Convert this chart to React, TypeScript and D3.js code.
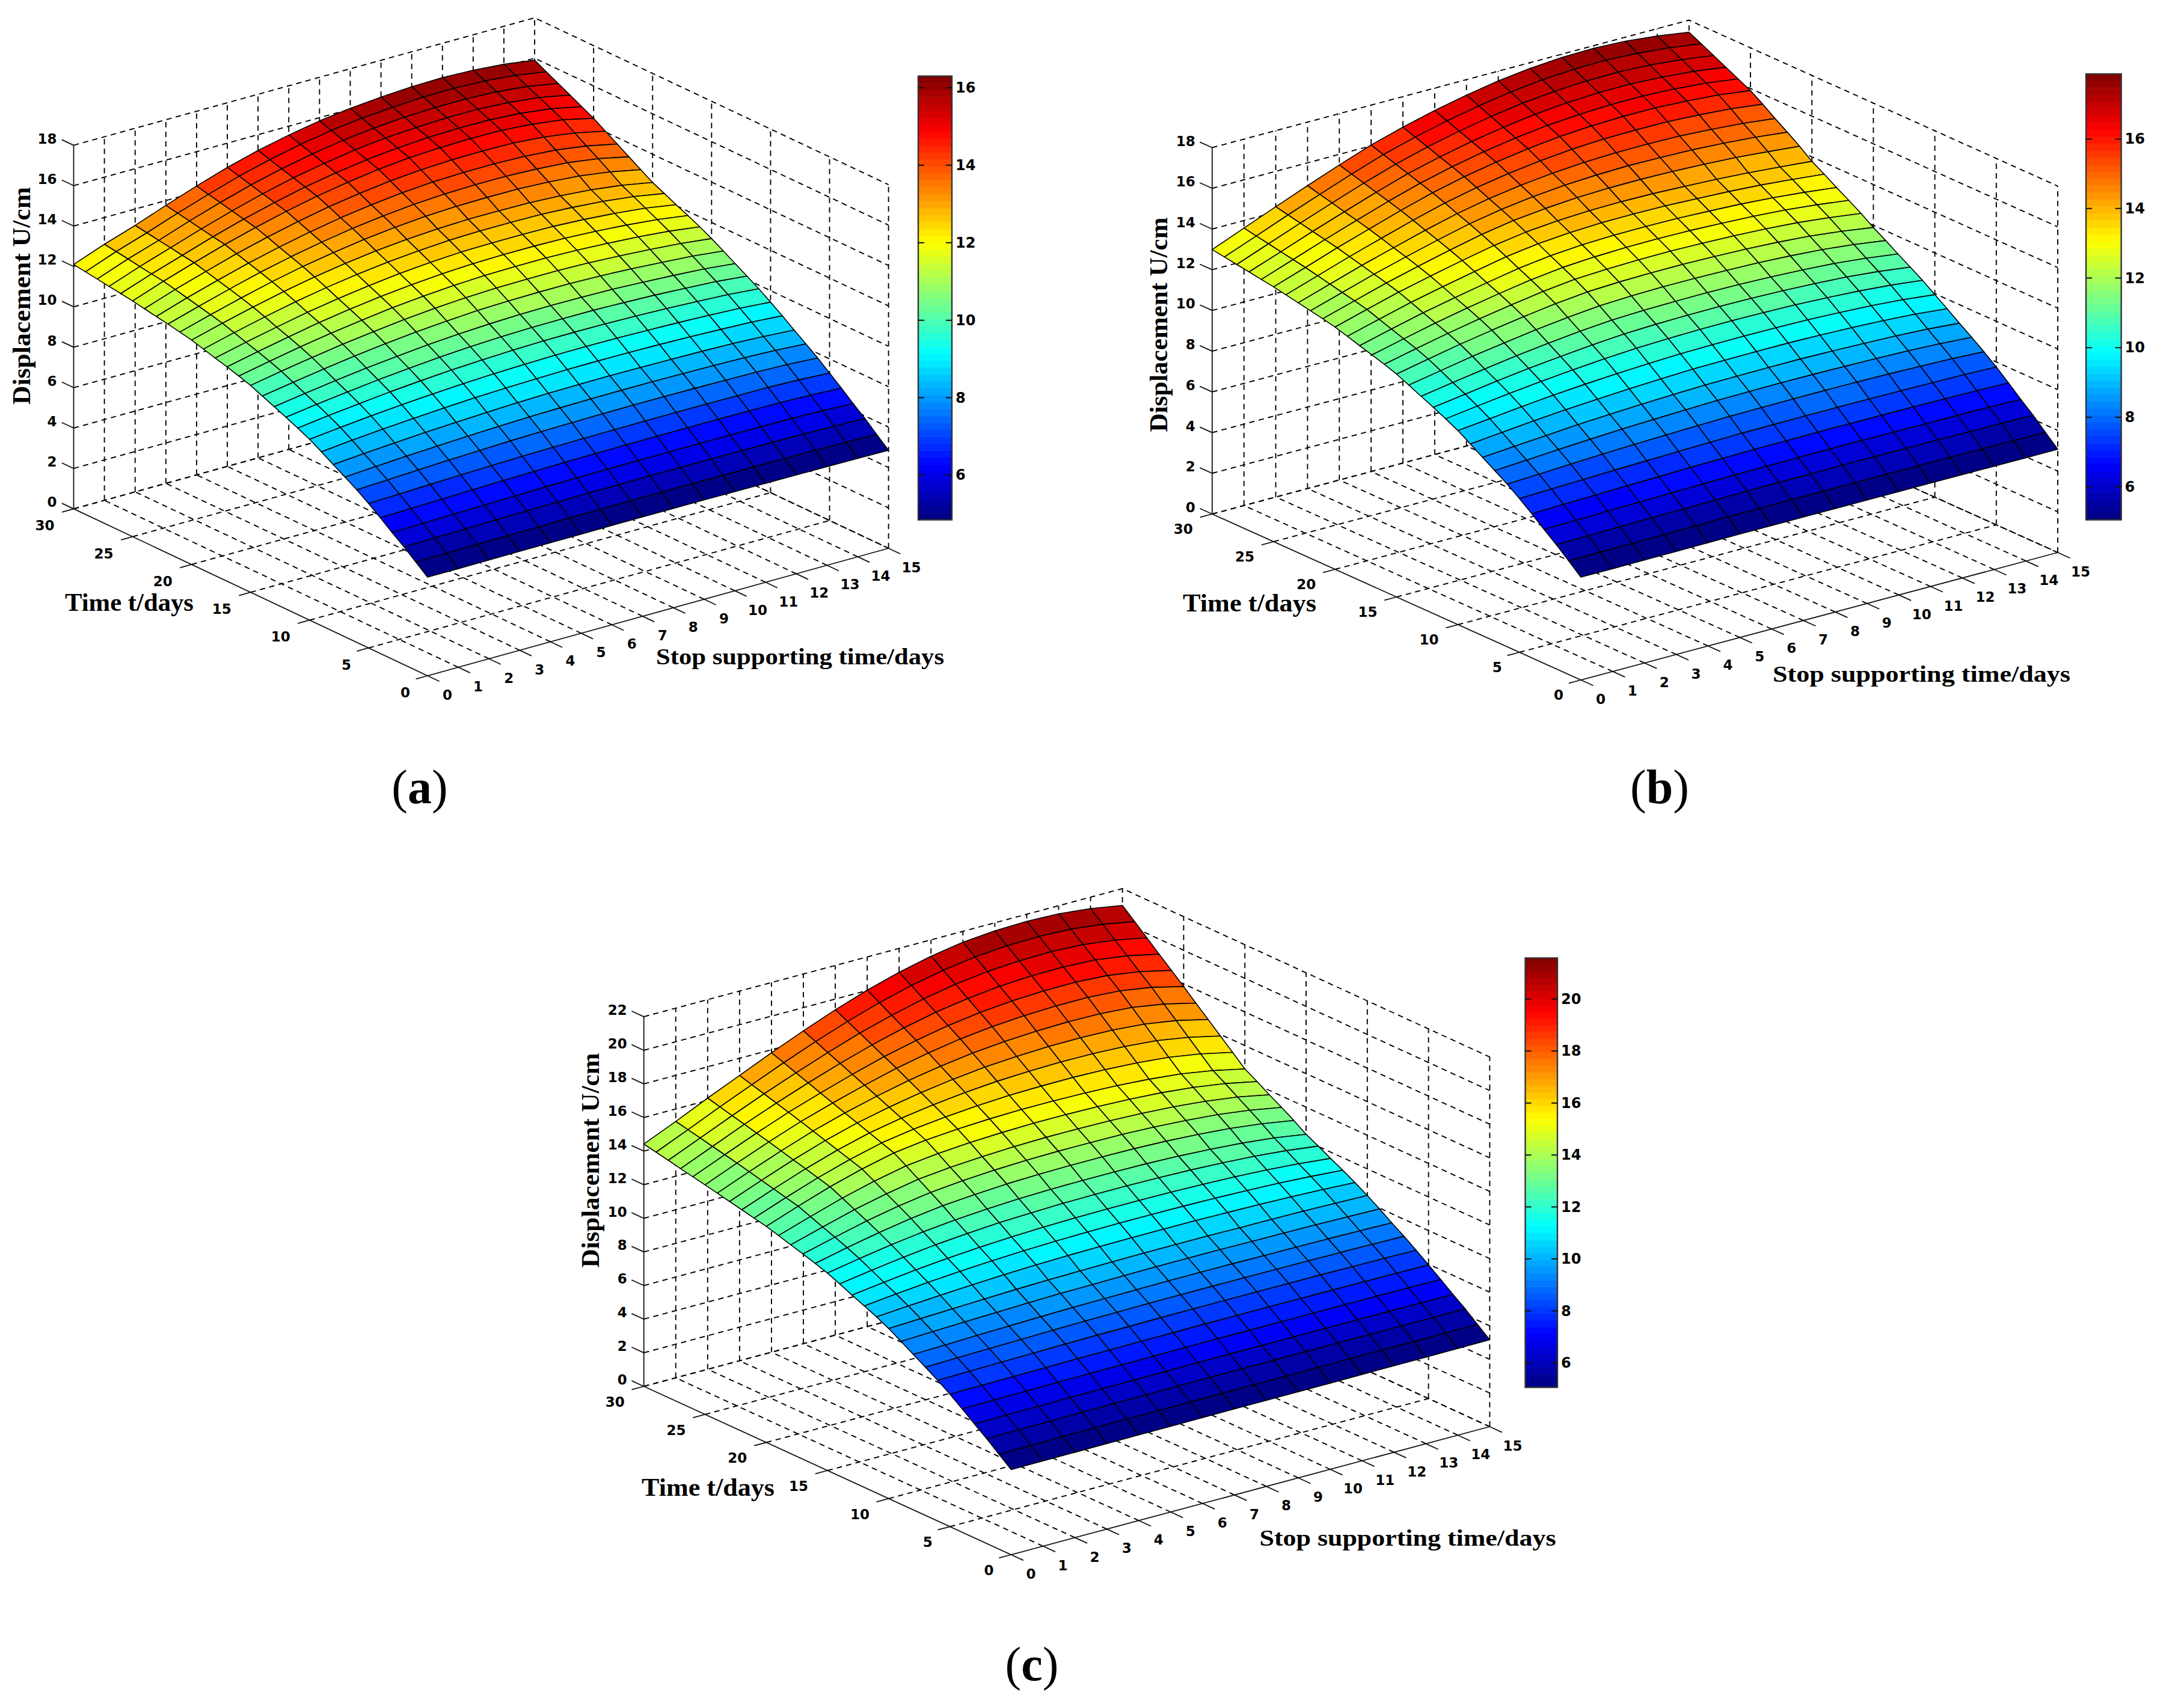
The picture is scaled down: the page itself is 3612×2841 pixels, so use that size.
import React from "react";
import * as d3 from "d3";

// tick values
const timeTicks = [0, 5, 10, 15, 20, 25, 30];
const stopTicks = d3.range(0, 16);
const stopValues = d3.range(0, 16);
const timeValues = d3.range(0, 31);
const dispTicksShort = [0, 2, 4, 6, 8, 10, 12, 14, 16, 18];
const dispTicksTall = [0, 2, 4, 6, 8, 10, 12, 14, 16, 18, 20, 22];
const barTicksShort = [6, 8, 10, 12, 14, 16];
const barTicksTall = [6, 8, 10, 12, 14, 16, 18, 20];

// displacement, one row per t (0..30), one column per stop time (0..15)
const dispA = [
  [4.88, 4.88, 4.89, 4.90, 4.90, 4.91, 4.92, 4.92, 4.92, 4.92, 4.91, 4.90, 4.89, 4.88, 4.87, 4.85],
  [5.36, 5.37, 5.39, 5.40, 5.41, 5.43, 5.44, 5.45, 5.45, 5.45, 5.44, 5.44, 5.43, 5.42, 5.40, 5.36],
  [5.83, 5.85, 5.88, 5.91, 5.92, 5.95, 5.97, 5.97, 5.98, 5.98, 5.98, 5.97, 5.96, 5.95, 5.92, 5.88],
  [6.26, 6.30, 6.33, 6.36, 6.39, 6.42, 6.44, 6.45, 6.46, 6.46, 6.46, 6.46, 6.45, 6.44, 6.40, 6.34],
  [6.72, 6.76, 6.80, 6.84, 6.88, 6.91, 6.94, 6.95, 6.96, 6.97, 6.97, 6.97, 6.96, 6.95, 6.90, 6.83],
  [7.15, 7.20, 7.25, 7.30, 7.34, 7.38, 7.41, 7.43, 7.44, 7.45, 7.45, 7.45, 7.44, 7.43, 7.38, 7.30],
  [7.55, 7.62, 7.69, 7.76, 7.82, 7.87, 7.91, 7.93, 7.95, 7.96, 7.96, 7.95, 7.93, 7.91, 7.86, 7.77],
  [7.91, 8.01, 8.10, 8.18, 8.25, 8.31, 8.36, 8.39, 8.41, 8.42, 8.42, 8.40, 8.38, 8.35, 8.29, 8.19],
  [8.25, 8.37, 8.48, 8.58, 8.66, 8.73, 8.79, 8.83, 8.85, 8.86, 8.85, 8.83, 8.81, 8.77, 8.70, 8.60],
  [8.61, 8.76, 8.89, 9.00, 9.10, 9.18, 9.24, 9.28, 9.31, 9.32, 9.31, 9.29, 9.25, 9.20, 9.14, 9.03],
  [8.95, 9.12, 9.27, 9.40, 9.51, 9.60, 9.67, 9.72, 9.75, 9.76, 9.75, 9.72, 9.68, 9.62, 9.55, 9.43],
  [9.23, 9.43, 9.60, 9.76, 9.89, 10.00, 10.08, 10.14, 10.18, 10.19, 10.18, 10.15, 10.10, 10.03, 9.95, 9.82],
  [9.49, 9.71, 9.90, 10.08, 10.23, 10.36, 10.46, 10.53, 10.57, 10.58, 10.58, 10.54, 10.49, 10.41, 10.32, 10.17],
  [9.74, 9.97, 10.19, 10.39, 10.55, 10.70, 10.81, 10.89, 10.94, 10.96, 10.95, 10.92, 10.85, 10.77, 10.67, 10.51],
  [9.99, 10.25, 10.49, 10.71, 10.90, 11.06, 11.18, 11.28, 11.33, 11.35, 11.35, 11.31, 11.24, 11.14, 11.03, 10.86],
  [10.24, 10.52, 10.78, 11.02, 11.22, 11.40, 11.54, 11.64, 11.70, 11.72, 11.72, 11.68, 11.60, 11.50, 11.38, 11.20],
  [10.43, 10.74, 11.03, 11.29, 11.51, 11.71, 11.86, 11.97, 12.04, 12.07, 12.07, 12.03, 11.95, 11.85, 11.71, 11.51],
  [10.61, 10.94, 11.25, 11.54, 11.78, 11.99, 12.15, 12.27, 12.35, 12.38, 12.38, 12.35, 12.27, 12.16, 12.01, 11.79],
  [10.77, 11.13, 11.46, 11.77, 12.03, 12.25, 12.43, 12.56, 12.65, 12.68, 12.68, 12.66, 12.58, 12.46, 12.30, 12.05],
  [10.94, 11.33, 11.69, 12.02, 12.30, 12.53, 12.72, 12.86, 12.96, 13.00, 13.00, 12.98, 12.90, 12.78, 12.60, 12.33],
  [11.11, 11.52, 11.90, 12.25, 12.55, 12.80, 13.00, 13.15, 13.25, 13.30, 13.30, 13.28, 13.20, 13.08, 12.88, 12.60],
  [11.23, 11.67, 12.08, 12.46, 12.79, 13.06, 13.29, 13.47, 13.60, 13.67, 13.69, 13.68, 13.61, 13.49, 13.27, 12.96],
  [11.35, 11.81, 12.24, 12.65, 13.00, 13.30, 13.56, 13.76, 13.91, 14.00, 14.04, 14.04, 13.98, 13.87, 13.65, 13.32],
  [11.45, 11.95, 12.40, 12.83, 13.20, 13.53, 13.81, 14.03, 14.21, 14.32, 14.37, 14.38, 14.33, 14.22, 14.00, 13.68],
  [11.56, 12.09, 12.56, 13.02, 13.42, 13.77, 14.08, 14.32, 14.52, 14.65, 14.72, 14.74, 14.71, 14.59, 14.37, 14.04],
  [11.67, 12.22, 12.72, 13.20, 13.62, 14.00, 14.33, 14.60, 14.82, 14.97, 15.05, 15.08, 15.06, 14.95, 14.75, 14.40],
  [11.76, 12.31, 12.81, 13.31, 13.76, 14.16, 14.51, 14.79, 15.02, 15.18, 15.28, 15.32, 15.31, 15.21, 15.02, 14.70],
  [11.84, 12.40, 12.91, 13.42, 13.89, 14.32, 14.69, 14.98, 15.23, 15.40, 15.50, 15.56, 15.56, 15.47, 15.30, 15.00],
  [11.93, 12.50, 13.00, 13.54, 14.03, 14.48, 14.86, 15.18, 15.43, 15.61, 15.73, 15.79, 15.80, 15.73, 15.57, 15.30],
  [12.01, 12.59, 13.10, 13.65, 14.16, 14.64, 15.04, 15.37, 15.64, 15.83, 15.95, 16.03, 16.05, 15.99, 15.85, 15.60],
  [12.10, 12.68, 13.19, 13.76, 14.30, 14.80, 15.22, 15.56, 15.84, 16.04, 16.18, 16.27, 16.30, 16.25, 16.12, 15.90],
];

const dispB = [
  [5.05, 5.05, 5.06, 5.06, 5.07, 5.08, 5.08, 5.08, 5.08, 5.08, 5.08, 5.08, 5.08, 5.07, 5.07, 5.07],
  [5.58, 5.59, 5.60, 5.61, 5.63, 5.65, 5.65, 5.66, 5.66, 5.66, 5.66, 5.66, 5.66, 5.65, 5.64, 5.63],
  [6.10, 6.12, 6.15, 6.17, 6.19, 6.21, 6.23, 6.24, 6.24, 6.25, 6.25, 6.24, 6.24, 6.23, 6.22, 6.20],
  [6.58, 6.61, 6.64, 6.67, 6.70, 6.73, 6.75, 6.76, 6.77, 6.78, 6.78, 6.77, 6.76, 6.75, 6.74, 6.70],
  [7.08, 7.12, 7.16, 7.20, 7.23, 7.27, 7.29, 7.32, 7.32, 7.33, 7.33, 7.32, 7.32, 7.30, 7.28, 7.24],
  [7.55, 7.60, 7.65, 7.70, 7.74, 7.78, 7.81, 7.84, 7.85, 7.86, 7.86, 7.85, 7.84, 7.82, 7.80, 7.75],
  [7.99, 8.06, 8.14, 8.21, 8.27, 8.32, 8.36, 8.40, 8.41, 8.42, 8.42, 8.41, 8.39, 8.35, 8.31, 8.23],
  [8.38, 8.48, 8.58, 8.67, 8.75, 8.81, 8.86, 8.91, 8.93, 8.94, 8.93, 8.91, 8.88, 8.84, 8.77, 8.67],
  [8.76, 8.88, 9.00, 9.12, 9.20, 9.28, 9.34, 9.39, 9.41, 9.42, 9.42, 9.39, 9.35, 9.30, 9.22, 9.09],
  [9.15, 9.30, 9.45, 9.58, 9.68, 9.77, 9.84, 9.90, 9.92, 9.93, 9.93, 9.90, 9.85, 9.78, 9.68, 9.53],
  [9.53, 9.70, 9.87, 10.02, 10.14, 10.24, 10.32, 10.38, 10.41, 10.42, 10.41, 10.38, 10.32, 10.24, 10.12, 9.95],
  [9.84, 10.05, 10.25, 10.42, 10.57, 10.70, 10.80, 10.86, 10.89, 10.90, 10.88, 10.85, 10.78, 10.69, 10.56, 10.38],
  [10.13, 10.36, 10.59, 10.79, 10.96, 11.11, 11.23, 11.29, 11.32, 11.33, 11.31, 11.27, 11.20, 11.11, 10.96, 10.76],
  [10.40, 10.66, 10.91, 11.14, 11.34, 11.51, 11.64, 11.70, 11.73, 11.74, 11.72, 11.67, 11.60, 11.50, 11.34, 11.13],
  [10.68, 10.97, 11.26, 11.50, 11.73, 11.92, 12.07, 12.14, 12.17, 12.17, 12.14, 12.10, 12.02, 11.91, 11.74, 11.52],
  [10.95, 11.27, 11.58, 11.85, 12.10, 12.32, 12.48, 12.55, 12.58, 12.58, 12.55, 12.50, 12.42, 12.30, 12.12, 11.89],
  [11.16, 11.51, 11.84, 12.14, 12.41, 12.65, 12.83, 12.91, 12.95, 12.96, 12.93, 12.88, 12.80, 12.69, 12.52, 12.31],
  [11.35, 11.72, 12.08, 12.40, 12.69, 12.95, 13.14, 13.24, 13.29, 13.30, 13.28, 13.22, 13.15, 13.04, 12.88, 12.68],
  [11.53, 11.93, 12.31, 12.64, 12.95, 13.24, 13.44, 13.56, 13.62, 13.63, 13.61, 13.55, 13.48, 13.37, 13.22, 13.04],
  [11.72, 12.14, 12.55, 12.90, 13.23, 13.54, 13.76, 13.89, 13.96, 13.97, 13.95, 13.89, 13.82, 13.72, 13.58, 13.42],
  [11.90, 12.35, 12.78, 13.15, 13.50, 13.82, 14.06, 14.20, 14.28, 14.30, 14.28, 14.22, 14.15, 14.05, 13.92, 13.78],
  [12.04, 12.50, 12.96, 13.36, 13.74, 14.09, 14.36, 14.53, 14.65, 14.70, 14.71, 14.68, 14.62, 14.53, 14.40, 14.25],
  [12.16, 12.64, 13.12, 13.55, 13.96, 14.34, 14.63, 14.84, 14.99, 15.07, 15.11, 15.09, 15.05, 14.96, 14.84, 14.67],
  [12.28, 12.78, 13.28, 13.73, 14.17, 14.57, 14.89, 15.13, 15.30, 15.42, 15.48, 15.49, 15.46, 15.37, 15.25, 15.07],
  [12.40, 12.92, 13.44, 13.92, 14.39, 14.82, 15.16, 15.43, 15.64, 15.79, 15.88, 15.90, 15.89, 15.81, 15.69, 15.50],
  [12.52, 13.05, 13.60, 14.10, 14.60, 15.05, 15.42, 15.72, 15.96, 16.14, 16.25, 16.30, 16.30, 16.22, 16.10, 15.90],
  [12.61, 13.17, 13.73, 14.26, 14.78, 15.25, 15.64, 15.96, 16.22, 16.42, 16.54, 16.61, 16.61, 16.54, 16.41, 16.20],
  [12.71, 13.28, 13.86, 14.41, 14.95, 15.45, 15.85, 16.19, 16.47, 16.69, 16.84, 16.92, 16.93, 16.85, 16.72, 16.50],
  [12.80, 13.40, 14.00, 14.57, 15.13, 15.64, 16.07, 16.43, 16.73, 16.97, 17.13, 17.22, 17.24, 17.17, 17.02, 16.81],
  [12.90, 13.51, 14.13, 14.72, 15.30, 15.84, 16.28, 16.66, 16.98, 17.24, 17.43, 17.53, 17.56, 17.48, 17.33, 17.11],
  [12.99, 13.63, 14.26, 14.88, 15.48, 16.04, 16.50, 16.90, 17.24, 17.52, 17.72, 17.84, 17.87, 17.80, 17.64, 17.41],
];

const dispC = [
  [5.06, 5.07, 5.08, 5.09, 5.10, 5.10, 5.11, 5.12, 5.12, 5.12, 5.13, 5.14, 5.15, 5.15, 5.16, 5.17],
  [5.65, 5.66, 5.68, 5.69, 5.70, 5.70, 5.71, 5.72, 5.72, 5.72, 5.73, 5.74, 5.75, 5.74, 5.75, 5.75],
  [6.24, 6.26, 6.27, 6.29, 6.30, 6.31, 6.32, 6.33, 6.33, 6.33, 6.34, 6.34, 6.34, 6.34, 6.34, 6.34],
  [6.78, 6.80, 6.81, 6.83, 6.84, 6.85, 6.86, 6.87, 6.88, 6.88, 6.88, 6.88, 6.88, 6.88, 6.87, 6.87],
  [7.34, 7.36, 7.38, 7.40, 7.42, 7.42, 7.43, 7.44, 7.45, 7.45, 7.45, 7.45, 7.45, 7.44, 7.44, 7.42],
  [7.88, 7.90, 7.92, 7.94, 7.96, 7.97, 7.98, 7.99, 8.00, 8.00, 8.00, 7.99, 7.99, 7.98, 7.97, 7.95],
  [8.37, 8.41, 8.44, 8.47, 8.50, 8.52, 8.53, 8.55, 8.56, 8.56, 8.56, 8.55, 8.55, 8.53, 8.52, 8.49],
  [8.82, 8.87, 8.91, 8.95, 8.99, 9.02, 9.04, 9.06, 9.07, 9.07, 9.07, 9.06, 9.05, 9.04, 9.02, 8.99],
  [9.25, 9.30, 9.36, 9.41, 9.46, 9.50, 9.52, 9.54, 9.56, 9.56, 9.56, 9.54, 9.53, 9.52, 9.49, 9.46],
  [9.69, 9.76, 9.83, 9.89, 9.95, 10.00, 10.02, 10.05, 10.07, 10.07, 10.07, 10.05, 10.04, 10.02, 9.99, 9.95],
  [10.12, 10.20, 10.28, 10.35, 10.42, 10.47, 10.50, 10.53, 10.55, 10.55, 10.55, 10.53, 10.52, 10.50, 10.46, 10.42],
  [10.48, 10.62, 10.75, 10.86, 10.96, 11.03, 11.08, 11.11, 11.13, 11.13, 11.13, 11.10, 11.07, 11.02, 10.95, 10.85],
  [10.80, 11.00, 11.18, 11.33, 11.45, 11.54, 11.60, 11.64, 11.66, 11.66, 11.65, 11.62, 11.57, 11.50, 11.39, 11.25],
  [11.11, 11.36, 11.59, 11.77, 11.92, 12.03, 12.10, 12.15, 12.17, 12.17, 12.15, 12.11, 12.05, 11.95, 11.81, 11.62],
  [11.44, 11.74, 12.01, 12.24, 12.41, 12.54, 12.62, 12.68, 12.70, 12.70, 12.68, 12.63, 12.55, 12.43, 12.26, 12.02],
  [11.75, 12.10, 12.42, 12.68, 12.88, 13.02, 13.12, 13.18, 13.20, 13.20, 13.18, 13.12, 13.02, 12.88, 12.68, 12.39],
  [11.99, 12.42, 12.81, 13.14, 13.39, 13.55, 13.67, 13.73, 13.76, 13.76, 13.74, 13.68, 13.57, 13.42, 13.19, 12.88],
  [12.22, 12.71, 13.17, 13.55, 13.85, 14.04, 14.16, 14.24, 14.27, 14.27, 14.25, 14.18, 14.07, 13.91, 13.66, 13.32],
  [12.43, 12.98, 13.51, 13.94, 14.30, 14.50, 14.63, 14.72, 14.76, 14.76, 14.73, 14.66, 14.55, 14.37, 14.11, 13.74],
  [12.65, 13.27, 13.86, 14.36, 14.76, 14.99, 15.13, 15.22, 15.27, 15.27, 15.24, 15.17, 15.05, 14.86, 14.58, 14.19],
  [12.86, 13.55, 14.20, 14.75, 15.20, 15.45, 15.60, 15.70, 15.75, 15.75, 15.72, 15.65, 15.52, 15.33, 15.02, 14.61],
  [13.02, 13.73, 14.40, 14.98, 15.46, 15.77, 15.99, 16.15, 16.26, 16.30, 16.31, 16.26, 16.16, 15.98, 15.68, 15.26],
  [13.18, 13.91, 14.60, 15.21, 15.72, 16.09, 16.38, 16.60, 16.76, 16.85, 16.89, 16.88, 16.80, 16.64, 16.33, 15.90],
  [13.34, 14.09, 14.80, 15.44, 15.98, 16.41, 16.77, 17.05, 17.27, 17.40, 17.48, 17.49, 17.44, 17.29, 16.99, 16.55],
  [13.50, 14.27, 15.00, 15.67, 16.24, 16.73, 17.16, 17.50, 17.77, 17.95, 18.06, 18.11, 18.08, 17.95, 17.64, 17.19],
  [13.66, 14.45, 15.20, 15.90, 16.50, 17.05, 17.55, 17.95, 18.28, 18.50, 18.65, 18.72, 18.72, 18.60, 18.30, 17.84],
  [13.81, 14.61, 15.39, 16.12, 16.76, 17.36, 17.91, 18.36, 18.74, 19.01, 19.19, 19.28, 19.29, 19.18, 18.90, 18.47],
  [13.96, 14.77, 15.58, 16.33, 17.03, 17.68, 18.27, 18.78, 19.20, 19.51, 19.73, 19.84, 19.86, 19.77, 19.51, 19.10],
  [14.12, 14.94, 15.76, 16.55, 17.29, 17.99, 18.64, 19.19, 19.66, 20.02, 20.27, 20.40, 20.44, 20.35, 20.11, 19.74],
  [14.27, 15.10, 15.95, 16.76, 17.56, 18.31, 19.00, 19.61, 20.12, 20.52, 20.81, 20.96, 21.01, 20.94, 20.72, 20.37],
  [14.42, 15.26, 16.14, 16.98, 17.82, 18.62, 19.36, 20.02, 20.58, 21.03, 21.35, 21.52, 21.58, 21.52, 21.32, 21.00],
];

const serif = "'Liberation Serif', serif";
const tickFont = "'DejaVu Sans', sans-serif";

// matlab jet, 64 steps
const clamp01 = (v: number) => Math.max(0, Math.min(1, v));
const jetColors = d3.range(64).map((i) => {
  const v = (i + 0.5) / 64;
  return d3.rgb(
    255 * clamp01(1.5 - Math.abs(4 * v - 3)),
    255 * clamp01(1.5 - Math.abs(4 * v - 2)),
    255 * clamp01(1.5 - Math.abs(4 * v - 1))
  ).formatHex();
});

const panels = [
  {
    id: "a", values: dispA, dispTicks: dispTicksShort, barTicks: barTicksShort,
    origin: [711, 1124], sEnd: [1477.6, 912], tEnd: [122.5, 846.4], zUnit: 33.6, tLabelDy: 28,
    bar: { x0: 1527, x1: 1583, y0: 126.6, y1: 864.6 },
    yLabel: { x: 50, y: 492, len: 362 },
    timeLabel: { x: 108, y: 1016, len: 214 },
    stopLabel: { x: 1091, y: 1105, len: 479 },
    tag: { x: 698, y: 1336 },
  },
  {
    id: "b", values: dispB, dispTicks: dispTicksShort, barTicks: barTicksShort,
    origin: [2629, 1131], sEnd: [3422, 919], tEnd: [2015.8, 855], zUnit: 33.86, tLabelDy: 24.5,
    bar: { x0: 3469, x1: 3527.6, y0: 123, y1: 864.6 },
    yLabel: { x: 1940.6, y: 540, len: 357 },
    timeLabel: { x: 1967, y: 1017, len: 222 },
    stopLabel: { x: 2948, y: 1134, len: 495 },
    tag: { x: 2760, y: 1336 },
  },
  {
    id: "c", values: dispC, dispTicks: dispTicksTall, barTicks: barTicksTall,
    origin: [1681.5, 2586], sEnd: [2477.4, 2373], tEnd: [1070.7, 2306], zUnit: 27.95, tLabelDy: 26,
    bar: { x0: 2536.5, x1: 2590, y0: 1593.5, y1: 2307.6 },
    yLabel: { x: 996, y: 1930, len: 357 },
    timeLabel: { x: 1067, y: 2488, len: 221 },
    stopLabel: { x: 2094.5, y: 2570.7, len: 493 },
    tag: { x: 1716, y: 2795 },
  },
];

const Panel = ({ p }: { p: (typeof panels)[number] }) => {
  const [ox, oy] = p.origin;
  const sX = d3.scaleLinear().domain([0, 15]).range([0, p.sEnd[0] - ox]);
  const sY = d3.scaleLinear().domain([0, 15]).range([0, p.sEnd[1] - oy]);
  const tX = d3.scaleLinear().domain([0, 30]).range([0, p.tEnd[0] - ox]);
  const tY = d3.scaleLinear().domain([0, 30]).range([0, p.tEnd[1] - oy]);
  const zY = d3.scaleLinear().domain([0, 1]).range([0, -p.zUnit]);
  const project = (s: number, t: number, z: number): [number, number] => [
    ox + sX(s) + tX(t),
    oy + sY(s) + tY(t) + zY(z),
  ];
  const line = d3.line();
  const zMax = d3.max(p.dispTicks) as number;

  const [lo, hi] = d3.extent(p.values.flat()) as [number, number];
  const color = d3.scaleQuantize<string>().domain([lo, hi]).range(jetColors);
  const barY = d3.scaleLinear().domain([lo, hi]).range([p.bar.y1, p.bar.y0]);
  const barStep = (hi - lo) / 64;

  const dashed = { stroke: "#000", strokeWidth: 1.9, strokeDasharray: "9 7", fill: "none" };
  const solid = { stroke: "#111", strokeWidth: 1.8, fill: "none" };

  // back to front so nearer cells sit on top
  const cells: { key: string; d: string; fill: string }[] = [];
  for (let ti = timeValues.length - 2; ti >= 0; ti--) {
    for (let si = stopValues.length - 2; si >= 0; si--) {
      const corners = [
        project(stopValues[si], timeValues[ti], p.values[ti][si]),
        project(stopValues[si + 1], timeValues[ti], p.values[ti][si + 1]),
        project(stopValues[si + 1], timeValues[ti + 1], p.values[ti + 1][si + 1]),
        project(stopValues[si], timeValues[ti + 1], p.values[ti + 1][si]),
      ];
      cells.push({
        key: `${ti}-${si}`,
        d: (line(corners) as string) + "Z",
        fill: color(p.values[ti][si]),
      });
    }
  }

  return (
    <g>
      {/* back walls and floor */}
      <g>
        {p.dispTicks.map((z) => (
          <path key={`wall-z${z}`} {...dashed}
            d={line([project(0, 30, z), project(15, 30, z), project(15, 0, z)]) as string} />
        ))}
        {stopTicks.filter((s) => s > 0).map((s) => (
          <path key={`wall-s${s}`} {...dashed}
            d={line([project(s, 30, 0), project(s, 30, zMax)]) as string} />
        ))}
        {timeTicks.filter((t) => t < 30).map((t) => (
          <path key={`wall-t${t}`} {...dashed}
            d={line([project(15, t, 0), project(15, t, zMax)]) as string} />
        ))}
        {timeTicks.filter((t) => t > 0).map((t) => (
          <path key={`floor-t${t}`} {...dashed}
            d={line([project(0, t, 0), project(15, t, 0)]) as string} />
        ))}
        {stopTicks.filter((s) => s > 0).map((s) => (
          <path key={`floor-s${s}`} {...dashed}
            d={line([project(s, 0, 0), project(s, 30, 0)]) as string} />
        ))}
      </g>

      {/* surface */}
      <g stroke="#000" strokeWidth={1.6} strokeLinejoin="round">
        {cells.map((c) => <path key={c.key} d={c.d} fill={c.fill} />)}
      </g>

      {/* axes */}
      <path {...solid} d={line([project(0, 30, zMax), project(0, 30, 0), project(0, 0, 0), project(15, 0, 0)]) as string} />
      {p.dispTicks.map((z) => {
        const [x, y] = project(0, 30, z);
        const [tx, ty] = project(0, 31, z);
        return (
          <g key={`ztick${z}`}>
            <path {...solid} d={line([[x, y], [tx, ty]]) as string} />
            <text x={x - 28} y={y - 11} textAnchor="end" dominantBaseline="central"
              fontFamily={tickFont} fontWeight="bold" fontSize={23}>{z}</text>
          </g>
        );
      })}
      {timeTicks.map((t) => {
        const [x, y] = project(0, t, 0);
        const [tx, ty] = project(-0.38, t, 0);
        return (
          <g key={`ttick${t}`}>
            <path {...solid} d={line([[x, y], [tx, ty]]) as string} />
            <text x={x - (t > 9 ? 48 : 37)} y={y + p.tLabelDy} textAnchor="middle" dominantBaseline="central"
              fontFamily={tickFont} fontWeight="bold" fontSize={23}>{t}</text>
          </g>
        );
      })}
      {stopTicks.map((s) => {
        const [x, y] = project(s, 0, 0);
        const [tx, ty] = project(s, -1, 0);
        return (
          <g key={`stick${s}`}>
            <path {...solid} d={line([[x, y], [tx, ty]]) as string} />
            <text x={x + (s > 9 ? 38 : 33)} y={y + 32} textAnchor="middle" dominantBaseline="central"
              fontFamily={tickFont} fontWeight="bold" fontSize={23}>{s}</text>
          </g>
        );
      })}

      {/* axis titles */}
      <text transform={`translate(${p.yLabel.x},${p.yLabel.y}) rotate(-90)`} textAnchor="middle"
        textLength={p.yLabel.len} lengthAdjust="spacingAndGlyphs"
        fontFamily={serif} fontWeight="bold" fontSize={42}>Displacement U/cm</text>
      <text x={p.timeLabel.x} y={p.timeLabel.y} textLength={p.timeLabel.len} lengthAdjust="spacingAndGlyphs"
        fontFamily={serif} fontWeight="bold" fontSize={42}>Time t/days</text>
      <text x={p.stopLabel.x} y={p.stopLabel.y} textLength={p.stopLabel.len} lengthAdjust="spacingAndGlyphs"
        fontFamily={serif} fontWeight="bold" fontSize={38}>Stop supporting time/days</text>

      {/* colorbar */}
      {jetColors.map((c, i) => (
        <rect key={`band${i}`} x={p.bar.x0} width={p.bar.x1 - p.bar.x0}
          y={barY(lo + (i + 1) * barStep)} height={barY(lo + i * barStep) - barY(lo + (i + 1) * barStep) + 0.6}
          fill={c} />
      ))}
      <rect x={p.bar.x0} y={p.bar.y0} width={p.bar.x1 - p.bar.x0} height={p.bar.y1 - p.bar.y0}
        fill="none" stroke="#333" strokeWidth={2.4} />
      {p.barTicks.map((v) => (
        <g key={`bar${v}`}>
          <path stroke="#111" strokeWidth={2} d={`M${p.bar.x0},${barY(v)}h10M${p.bar.x1},${barY(v)}h-10`} />
          <text x={p.bar.x1 + 6} y={barY(v)} dominantBaseline="central"
            fontFamily={tickFont} fontWeight="bold" fontSize={24}>{v}</text>
        </g>
      ))}

      {/* panel tag */}
      <text x={p.tag.x} y={p.tag.y} textAnchor="middle" fontFamily={serif} fontSize={80}>
        (<tspan fontWeight="bold">{p.id}</tspan>)
      </text>
    </g>
  );
};

export default function App() {
  return (
    <svg width={3612} height={2841} viewBox="0 0 3612 2841"
      style={{ position: "absolute", left: 0, top: 0, background: "#fff" }}>
      {panels.map((p) => <Panel key={p.id} p={p} />)}
    </svg>
  );
}
